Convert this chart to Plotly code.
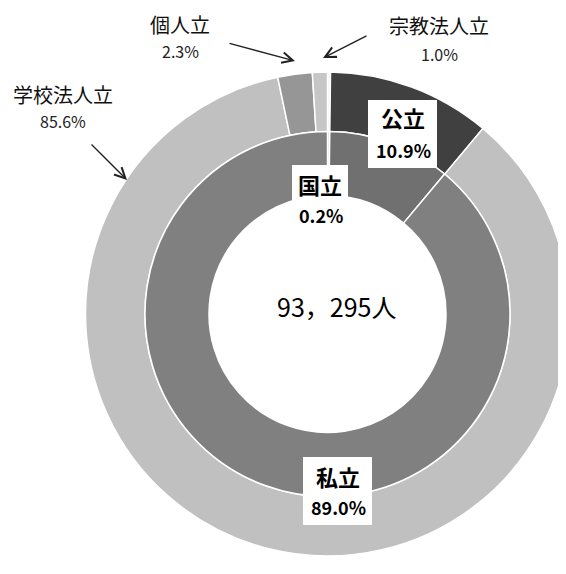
import plotly.graph_objects as go

W, H = 566, 574
OFF = 8  # page body margin in the rendered html

# ---- data ----
inner_labels = ["国立", "公立", "私立"]
inner_values = [0.2, 10.9, 89.0]
inner_pct = ["0.2%", "10.9%", "89.0%"]

outer_labels = ["国立", "公立", "学校法人立", "個人立", "宗教法人立"]
outer_values = [0.2, 10.9, 85.6, 2.3, 1.0]
outer_pct = ["0.2%", "10.9%", "85.6%", "2.3%", "1.0%"]

total_label = "93，295人"

# ---- styles ----
inner_colors = ["#d8d8d8", "#707070", "#808080"]
outer_colors = ["#f2f2f2", "#404040", "#c0c0c0", "#969696", "#c6c6c6"]
FONT = "Noto Sans CJK JP"


def px(x):
    return (x - OFF) / W


def py(y):
    return 1 - (y - OFF) / H


cx, cy = 327.5, 314
R_out, R_mid, R_in = 242, 182.5, 118.5

fig = go.Figure()
fig.add_trace(go.Pie(
    labels=outer_labels, values=outer_values, sort=False, direction="clockwise",
    rotation=0, hole=R_mid / R_out, textinfo="none", hoverinfo="label+percent",
    marker=dict(colors=outer_colors, line=dict(color="#ffffff", width=1.5)),
    domain=dict(x=[px(cx - R_out), min(1, px(cx + R_out))],
                y=[py(cy + R_out), py(cy - R_out)]),
    showlegend=False,
))
fig.add_trace(go.Pie(
    labels=inner_labels, values=inner_values, sort=False, direction="clockwise",
    rotation=0, hole=R_in / R_mid, textinfo="none", hoverinfo="label+percent",
    marker=dict(colors=inner_colors, line=dict(color="#ffffff", width=1.5)),
    domain=dict(x=[px(cx - R_mid), px(cx + R_mid)],
                y=[py(cy + R_mid), py(cy - R_mid)]),
    showlegend=False,
))

ann = []
shapes = []
# center total
ann.append(dict(x=px(336), y=py(306), text=total_label, showarrow=False,
                font=dict(family=FONT, size=25, color="#000000")))

# outer labels with arrows
def outer_label(name, pct, tx, ty, pty, head, tail):
    ann.append(dict(x=px(tx), y=py(ty), text=name, showarrow=False,
                    font=dict(family=FONT, size=20, color="#111111")))
    ann.append(dict(x=px(tx), y=py(pty), text=pct, showarrow=False,
                    font=dict(family=FONT, size=16, color="#222222")))
    ann.append(dict(x=px(head[0]), y=py(head[1]),
                    ax=tail[0] - head[0], ay=tail[1] - head[1],
                    axref="pixel", ayref="pixel",
                    text="", showarrow=True, arrowhead=5, arrowsize=1.5,
                    arrowwidth=1.4, arrowcolor="#222222"))

outer_label(outer_labels[3], outer_pct[3], 180, 25, 51, (295, 61), (228, 43))
outer_label(outer_labels[4], outer_pct[4], 439, 26, 54, (323, 58), (368, 35))
outer_label(outer_labels[2], outer_pct[2], 63, 94, 121, (127, 180), (90, 143))

# boxed labels
def box_label(name, pct, x0, y0, x1, y1, ny, pcy):
    shapes.append(dict(type="rect", xref="paper", yref="paper", layer="above",
                       x0=px(x0), x1=px(x1), y0=py(y1), y1=py(y0),
                       fillcolor="#ffffff", line=dict(width=0)))
    xc = (x0 + x1) / 2
    ann.append(dict(x=px(xc), y=py(ny), text=f"<b>{name}</b>", showarrow=False,
                    font=dict(family=FONT, size=22, color="#000000")))
    ann.append(dict(x=px(xc + 1), y=py(pcy), text=f"<b>{pct}</b>", showarrow=False,
                    font=dict(family=FONT, size=18, color="#000000")))

box_label(inner_labels[1], inner_pct[1], 368, 100, 437, 168, 117, 150)
box_label(inner_labels[0], inner_pct[0], 292, 165, 348, 228, 184, 215)
box_label(inner_labels[2], inner_pct[2], 303, 457, 372, 525, 476, 507)

for a in ann:
    a.setdefault("xref", "paper")
    a.setdefault("yref", "paper")
    a.setdefault("xanchor", "center")
    a.setdefault("yanchor", "middle")

fig.update_layout(
    width=W, height=H, margin=dict(l=0, r=0, t=0, b=0),
    paper_bgcolor="#ffffff", plot_bgcolor="#ffffff",
    annotations=ann, shapes=shapes, font=dict(family=FONT),
)

fig.write_html("out.html")
